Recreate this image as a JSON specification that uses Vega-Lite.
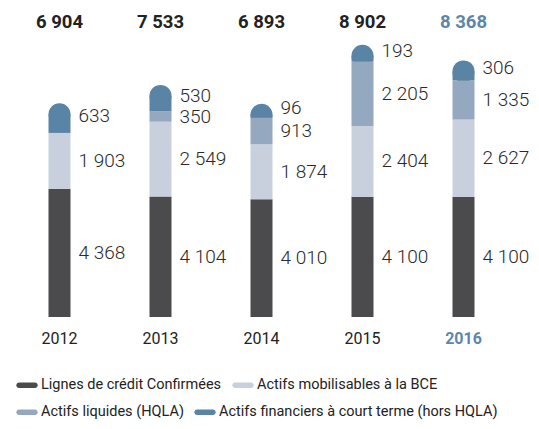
{
  "$schema": "https://vega.github.io/schema/vega-lite/v6.json",
  "width": 505,
  "height": 317,
  "autosize": {"type": "none"},
  "padding": {"left": 9, "top": 0, "right": 25, "bottom": 112},
  "config": {
    "view": {"stroke": null},
    "font": "Roboto, sans-serif",
    "locale": {"number": {"decimal": ",", "thousands": " ", "grouping": [3], "currency": ["", " €"]}},
    "legend": {
      "title": null, "orient": "none", "direction": "horizontal",
      "labelFontSize": 14.5, "labelColor": "#222222", "labelLimit": 400, "labelOffset": 6,
      "symbolType": "M-1,-0.35L1,-0.35A0.35,0.35,0,0,1,1,0.35L-1,0.35A0.35,0.35,0,0,1,-1,-0.35Z",
      "symbolSize": 250, "symbolStrokeWidth": 0, "symbolOpacity": 1
    }
  },
  "data": {
    "values": [
      {"year": "2012", "category": "Lignes de crédit Confirmées", "order": 1, "value": 4368},
      {"year": "2012", "category": "Actifs mobilisables à la BCE", "order": 2, "value": 1903},
      {"year": "2012", "category": "Actifs financiers à court terme (hors HQLA)", "order": 4, "value": 633},
      {"year": "2013", "category": "Lignes de crédit Confirmées", "order": 1, "value": 4104},
      {"year": "2013", "category": "Actifs mobilisables à la BCE", "order": 2, "value": 2549},
      {"year": "2013", "category": "Actifs liquides (HQLA)", "order": 3, "value": 350},
      {"year": "2013", "category": "Actifs financiers à court terme (hors HQLA)", "order": 4, "value": 530},
      {"year": "2014", "category": "Lignes de crédit Confirmées", "order": 1, "value": 4010},
      {"year": "2014", "category": "Actifs mobilisables à la BCE", "order": 2, "value": 1874},
      {"year": "2014", "category": "Actifs liquides (HQLA)", "order": 3, "value": 913},
      {"year": "2014", "category": "Actifs financiers à court terme (hors HQLA)", "order": 4, "value": 96},
      {"year": "2015", "category": "Lignes de crédit Confirmées", "order": 1, "value": 4100},
      {"year": "2015", "category": "Actifs mobilisables à la BCE", "order": 2, "value": 2404},
      {"year": "2015", "category": "Actifs liquides (HQLA)", "order": 3, "value": 2205},
      {"year": "2015", "category": "Actifs financiers à court terme (hors HQLA)", "order": 4, "value": 193},
      {"year": "2016", "category": "Lignes de crédit Confirmées", "order": 1, "value": 4100},
      {"year": "2016", "category": "Actifs mobilisables à la BCE", "order": 2, "value": 2627},
      {"year": "2016", "category": "Actifs liquides (HQLA)", "order": 3, "value": 1335},
      {"year": "2016", "category": "Actifs financiers à court terme (hors HQLA)", "order": 4, "value": 306}
    ]
  },
  "transform": [
    {"stack": "value", "groupby": ["year"], "sort": [{"field": "order", "order": "ascending"}], "as": ["v0", "v1"]},
    {"joinaggregate": [{"op": "sum", "field": "value", "as": "total"}], "groupby": ["year"]}
  ],
  "encoding": {
    "x": {
      "field": "year", "type": "nominal",
      "scale": {"paddingInner": 0.78, "paddingOuter": 0.39},
      "axis": {
        "title": null, "domain": false, "ticks": false, "labelAngle": 0,
        "labelFontSize": 16, "labelPadding": 13,
        "labelColor": {"condition": {"test": "datum.value == '2016'", "value": "#5e86a8"}, "value": "#222222"},
        "labelFontWeight": {"condition": {"test": "datum.value == '2016'", "value": "bold"}, "value": "normal"}
      }
    }
  },
  "layer": [
    {
      "transform": [{"filter": "datum.order == 4"}],
      "mark": {"type": "point", "shape": "circle", "filled": true, "opacity": 1, "size": 484, "color": "#5a84a6"},
      "encoding": {
        "y": {"field": "total", "type": "quantitative", "scale": {"domain": [0, 10800]}, "axis": null}
      }
    },
    {
      "transform": [{"filter": "datum.order <= 2"}],
      "mark": {"type": "bar", "width": 22},
      "encoding": {
        "y": {"field": "v0", "type": "quantitative", "scale": {"domain": [0, 10800]}, "axis": null},
        "y2": {"field": "v1"},
        "color": {
          "field": "category", "type": "nominal",
          "scale": {
            "domain": ["Lignes de crédit Confirmées", "Actifs mobilisables à la BCE"],
            "range": ["#4b4b4d", "#c8d0dd"]
          },
          "legend": {"legendX": 10, "legendY": 377, "columnPadding": 10}
        }
      }
    },
    {
      "transform": [{"filter": "datum.order >= 3"}],
      "mark": {"type": "bar", "width": 22},
      "encoding": {
        "y": {"field": "v0", "type": "quantitative", "scale": {"domain": [0, 10800]}, "axis": null},
        "y2": {"field": "v1"},
        "fill": {
          "field": "category", "type": "nominal",
          "scale": {
            "domain": ["Actifs liquides (HQLA)", "Actifs financiers à court terme (hors HQLA)"],
            "range": ["#94a9c0", "#5a84a6"]
          },
          "legend": {"legendX": 10, "legendY": 404, "columnPadding": 10}
        }
      }
    },
    {
      "transform": [
        {"filter": "datum.order < 4"},
        {"fold": ["v0", "v1"], "as": ["edge", "pos"]},
        {"aggregate": [{"op": "mean", "field": "pos", "as": "mid"}], "groupby": ["year", "category", "order", "value"]}
      ],
      "mark": {"type": "text", "align": "left", "baseline": "middle", "dx": 19, "fontSize": 19, "fontWeight": 300, "color": "#2a2a2a"},
      "encoding": {
        "y": {"field": "mid", "type": "quantitative", "scale": {"domain": [0, 10800]}},
        "text": {"field": "value", "type": "quantitative", "format": ",d"}
      }
    },
    {
      "transform": [
        {"filter": "datum.order == 4"},
        {"fold": ["v0", "v1"], "as": ["edge", "pos"]},
        {"aggregate": [{"op": "mean", "field": "pos", "as": "mid"}], "groupby": ["year", "category", "order", "value"]}
      ],
      "mark": {"type": "text", "align": "left", "baseline": "middle", "dx": 19, "dy": -8, "fontSize": 19, "fontWeight": 300, "color": "#2a2a2a"},
      "encoding": {
        "y": {"field": "mid", "type": "quantitative", "scale": {"domain": [0, 10800]}},
        "text": {"field": "value", "type": "quantitative", "format": ",d"}
      }
    },
    {
      "transform": [{"filter": "datum.order == 4"}],
      "mark": {"type": "text", "align": "center", "baseline": "middle", "fontSize": 18.5, "fontWeight": "bold"},
      "encoding": {
        "y": {"datum": 10041, "type": "quantitative", "scale": {"domain": [0, 10800]}},
        "text": {"field": "total", "type": "quantitative", "format": ",d"},
        "color": {"condition": {"test": "datum.year == '2016'", "value": "#5e86a8"}, "value": "#222222"}
      }
    }
  ]
}
